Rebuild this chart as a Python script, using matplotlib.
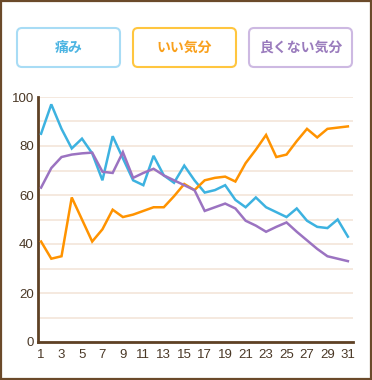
import numpy as np
import matplotlib
matplotlib.use("Agg")
import matplotlib.pyplot as plt
from matplotlib.patches import FancyBboxPatch, Rectangle

plt.rcParams['font.family'] = ['Noto Sans CJK JP', 'DejaVu Sans']

days = list(range(1, 32))
pain = [85, 97, 87, 79, 83, 77, 66, 84, 75, 66, 64, 76, 68, 65, 72, 66, 61, 62, 64, 58,
        55, 59, 55, 53, 51, 54.5, 49.5, 47, 46.5, 50, 43]
good = [41, 34, 35, 59, 50, 41, 46, 54, 51, 52, 53.5, 55, 55, 59.5, 64.5, 62, 66, 67, 67.5, 65.5,
        73, 78.5, 84.5, 75.5, 76.5, 82, 87, 83.5, 87, 87.5, 88]
bad = [63, 71, 75.5, 76.5, 77, 77.3, 69.5, 69, 77.5, 67, 69, 70.7, 68, 66, 64, 62, 53.5, 55, 56.5, 54.5,
       49.5, 47.5, 45, 47, 48.8, 45, 41.5, 38, 35, 34, 33]
labels = ["痛み", "いい気分", "良くない気分"]

line_colors = ["#3db2e0", "#ff9300", "#9b73c1"]
edge_colors = ["#a8dcf5", "#ffc63f", "#cdb9e2"]
text_colors = ["#4cb4e2", "#f9a01c", "#9a7bbd"]
brown = "#5e4125"
grid_c = "#f5e7dc"

fig = plt.figure(figsize=(3.72, 3.80), dpi=100)
ax = fig.add_axes([38 / 372, 38 / 380, 315 / 372, 245 / 380])

for ys, c in zip([pain, good, bad], line_colors):
    ax.plot(days, ys, color=c, lw=1.8, solid_joinstyle='miter', zorder=3)

ax.set_xlim(0.7, 31.5)
ax.set_ylim(0, 100)
ax.set_yticks(range(0, 101, 20))
ax.set_yticks(range(10, 100, 20), minor=True)
ax.set_xticks(range(1, 32, 2))
ax.grid(True, axis='y', which='both', color=grid_c, lw=1.3, zorder=0)
ax.tick_params(length=0, which='both', colors="#4a3826", labelsize=9.5)
ax.tick_params(axis='y', pad=3)
ax.tick_params(axis='x', pad=5)
for lab in ax.get_xticklabels() + ax.get_yticklabels():
    lab.set_family('Liberation Sans')
for s in ['top', 'right']:
    ax.spines[s].set_visible(False)
for s in ['left', 'bottom']:
    ax.spines[s].set_color(brown)
    ax.spines[s].set_linewidth(2)

# overlay in pixel coords for legend boxes and border
ov = fig.add_axes([0, 0, 1, 1], facecolor='none')
ov.set_xlim(0, 372)
ov.set_ylim(380, 0)
ov.axis('off')
ov.add_patch(Rectangle((1, 1), 370, 378, fill=False, ec="#6b4a2a", lw=1.6))
box_x = [17, 133, 249]
for x0, lab, ec, tc in zip(box_x, labels, edge_colors, text_colors):
    ov.add_patch(FancyBboxPatch((x0, 28), 103, 39, boxstyle="round,pad=0,rounding_size=5",
                                fill=False, ec=ec, lw=1.5))
    ov.text(x0 + 51.5, 48, lab, color=tc, fontsize=10, fontweight='bold',
            ha='center', va='center')

fig.savefig("out.png", dpi=100)
